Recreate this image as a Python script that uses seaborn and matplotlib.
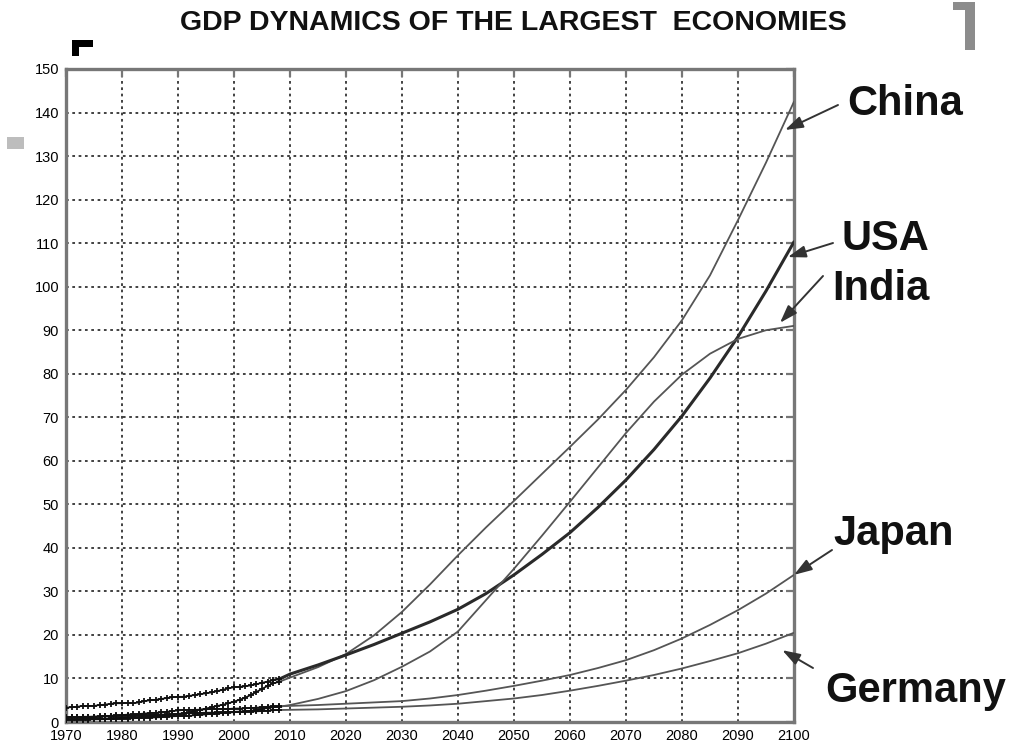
import numpy as np
import pandas as pd
import matplotlib
matplotlib.use("Agg")
import matplotlib.pyplot as plt
from matplotlib.patches import Rectangle
import seaborn as sns

# ---------------- data ----------------
hist_years = list(range(1970, 2009))
usa_hist = [3.3, 3.4, 3.5, 3.7, 3.7, 3.7, 3.9, 4.0, 4.2, 4.3,
            4.3, 4.4, 4.3, 4.5, 4.8, 5.0, 5.1, 5.3, 5.5, 5.7,
            5.8, 5.8, 6.0, 6.2, 6.4, 6.6, 6.8, 7.1, 7.4, 7.7,
            8.0, 8.1, 8.2, 8.4, 8.7, 9.0, 9.3, 9.6, 9.8]
china_hist = [0.6, 0.6, 0.65, 0.7, 0.7, 0.75, 0.75, 0.8, 0.85, 0.9,
              0.95, 1.0, 1.05, 1.1, 1.2, 1.3, 1.35, 1.45, 1.55, 1.65,
              1.8, 1.95, 2.2, 2.5, 2.8, 3.1, 3.4, 3.7, 3.95, 4.3,
              4.7, 5.1, 5.6, 6.2, 6.9, 7.6, 8.3, 8.9, 9.2]
india_hist = [0.5, 0.5, 0.52, 0.55, 0.57, 0.6, 0.62, 0.66, 0.7, 0.7,
              0.75, 0.8, 0.85, 0.9, 0.95, 1.0, 1.05, 1.1, 1.2, 1.3,
              1.35, 1.4, 1.45, 1.55, 1.65, 1.75, 1.85, 1.95, 2.05, 2.15,
              2.25, 2.35, 2.45, 2.6, 2.8, 3.0, 3.2, 3.4, 3.5]
japan_hist = [1.0, 1.05, 1.1, 1.2, 1.2, 1.25, 1.3, 1.35, 1.45, 1.5,
              1.6, 1.7, 1.75, 1.85, 1.95, 2.05, 2.1, 2.2, 2.35, 2.5,
              2.65, 2.75, 2.8, 2.8, 2.85, 2.9, 3.0, 3.05, 3.0, 3.0,
              3.1, 3.1, 3.15, 3.2, 3.3, 3.4, 3.5, 3.6, 3.6]
germany_hist = [1.1, 1.12, 1.15, 1.2, 1.2, 1.2, 1.25, 1.3, 1.35, 1.4,
                1.45, 1.45, 1.45, 1.5, 1.55, 1.6, 1.65, 1.7, 1.75, 1.8,
                1.9, 2.0, 2.05, 2.05, 2.1, 2.15, 2.15, 2.2, 2.25, 2.3,
                2.35, 2.4, 2.4, 2.4, 2.45, 2.5, 2.6, 2.7, 2.75]

model_years = [2008, 2010, 2015, 2020, 2025, 2030, 2035, 2040, 2045, 2050,
               2055, 2060, 2065, 2070, 2075, 2080, 2085, 2090, 2095, 2100]
usa_model = [9.8, 11.0, 13.1, 15.4, 17.8, 20.4, 23.0, 25.9, 29.5, 33.8,
             38.5, 43.5, 49.3, 55.6, 62.6, 70.3, 79.0, 88.5, 99.0, 110.3]
china_model = [9.2, 10.2, 12.6, 15.6, 19.9, 25.3, 31.6, 38.3, 44.7, 50.8,
               57.0, 63.2, 69.5, 76.3, 83.8, 92.3, 102.6, 115.3, 128.5, 142.5]
india_model = [3.5, 3.9, 5.3, 7.1, 9.6, 12.7, 16.2, 20.8, 28.0, 35.2,
               42.8, 50.6, 58.5, 66.4, 73.6, 79.8, 84.6, 88.0, 90.0, 91.0]
japan_model = [3.6, 3.7, 3.9, 4.2, 4.5, 4.8, 5.4, 6.2, 7.2, 8.3,
               9.5, 10.8, 12.4, 14.2, 16.5, 19.2, 22.3, 25.7, 29.5, 33.8]
germany_model = [2.75, 2.8, 2.9, 3.1, 3.3, 3.5, 3.8, 4.2, 4.8, 5.4,
                 6.2, 7.2, 8.3, 9.5, 10.8, 12.3, 14.0, 15.8, 18.0, 20.5]

countries = ["China", "USA", "India", "Japan", "Germany"]
hist = {"China": china_hist, "USA": usa_hist, "India": india_hist,
        "Japan": japan_hist, "Germany": germany_hist}
model = {"China": china_model, "USA": usa_model, "India": india_model,
         "Japan": japan_model, "Germany": germany_model}

x_ticks = list(range(1970, 2101, 10))
y_ticks = list(range(0, 151, 10))
title = "GDP DYNAMICS OF THE LARGEST  ECONOMIES"

# ---------------- style ----------------
sns.set_theme(style="white")
plt.rcParams["font.family"] = ["Liberation Sans", "DejaVu Sans"]

W, H = 1009, 747
fig = plt.figure(figsize=(W / 100, H / 100), dpi=100)
L, R, T, B = 66, 794, 69, 722
ax = fig.add_axes([L / W, 1 - B / H, (R - L) / W, (B - T) / H])

hist_df = pd.DataFrame([(c, y, v) for c in countries for y, v in zip(hist_years, hist[c])],
                       columns=["country", "year", "gdp"])
model_df = pd.DataFrame([(c, y, v) for c in countries for y, v in zip(model_years, model[c])],
                        columns=["country", "year", "gdp"])

for c in countries:
    thick = c == "USA"
    sns.lineplot(data=model_df[model_df.country == c], x="year", y="gdp", ax=ax,
                 color="#2a2a2a" if thick else "#555555",
                 lw=2.2 if thick else 1.3, legend=False, zorder=3)
    sns.lineplot(data=hist_df[hist_df.country == c], x="year", y="gdp", ax=ax,
                 color="#111111", lw=1.2, marker="+", markersize=4.5,
                 markeredgewidth=1.3, markeredgecolor="#111111",
                 markerfacecolor="#111111", legend=False, zorder=4)

ax.set_xlim(1970, 2100)
ax.set_ylim(0, 150)
ax.set_xticks(x_ticks)
ax.set_yticks(y_ticks)
ax.set_xlabel("")
ax.set_ylabel("")
ax.grid(True, linestyle=(0, (1.5, 2.0)), color="#333333", lw=1.3)
ax.tick_params(direction="in", length=6, width=1.6, color="#777777",
               top=True, right=True, labelsize=10.5, labelcolor="#000000", pad=5)
for s in ax.spines.values():
    s.set_color("#777777")
    s.set_linewidth(2.4)

# title
fig.text(513 / W, 1 - 23 / H, title, ha="center", va="center",
         fontsize=20.5, fontweight="bold", color="#111111")

# labels and arrows
label_pos = {"China": (847, 115), "USA": (842, 250), "India": (832, 300),
             "Japan": (833, 545), "Germany": (825, 702)}
arrow_tail = {"China": (838, 105), "USA": (833, 243), "India": (823, 276),
              "Japan": (832, 550), "Germany": (813, 668)}
arrow_tip = {"China": (2098.4, 136.0), "USA": (2098.9, 106.8), "India": (2097.5, 91.7),
             "Japan": (2100.0, 33.8), "Germany": (2097.9, 16.5)}
for c in countries:
    lx, ly = label_pos[c]
    fig.text(lx / W, 1 - ly / H, c, ha="left", va="baseline",
             fontsize=30, fontweight="bold", color="#111111")
    tx, ty = arrow_tail[c]
    ax.annotate("", xy=arrow_tip[c], xycoords="data",
                xytext=(tx / W, 1 - ty / H), textcoords="figure fraction",
                arrowprops=dict(arrowstyle="-|>,head_length=0.9,head_width=0.3",
                                color="#333333", lw=1.4, shrinkA=0, shrinkB=0),
                annotation_clip=False, zorder=6)

# slide decorations
def rect(x0, y0, x1, y1, color):
    fig.patches.append(Rectangle((x0 / W, 1 - y1 / H), (x1 - x0) / W, (y1 - y0) / H,
                                 transform=fig.transFigure, color=color, lw=0))

rect(72, 40, 93, 47, "#000000")
rect(72, 40, 79, 56, "#000000")
rect(953, 2, 975, 10, "#8c8c8c")
rect(965, 2, 975, 50, "#8c8c8c")
rect(7, 137, 24, 149, "#bdbdbd")

fig.savefig("out.png", dpi=100)
